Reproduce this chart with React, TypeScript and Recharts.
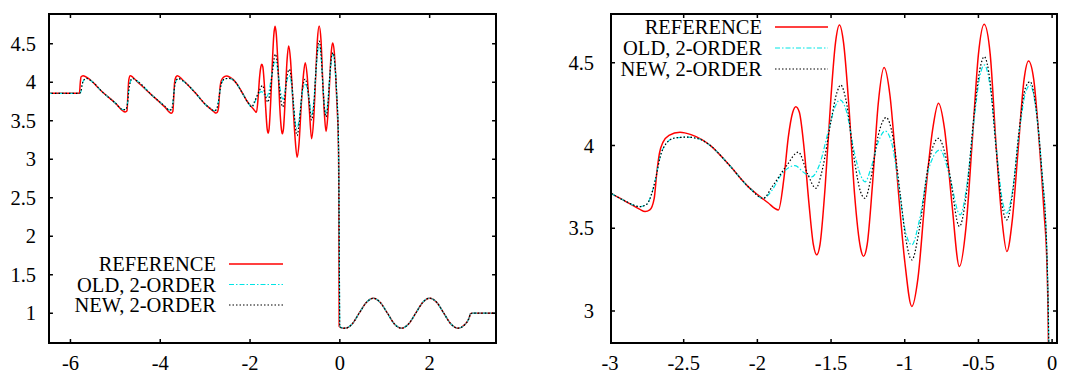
import React from 'react'
import { LineChart, Line, XAxis, YAxis } from 'recharts'

// density profiles, as [x, rho]
const refPts: [number, number][] = [
  [-6.5, 3.857], [-5.8, 3.857], [-5.78, 4.0], [-5.765, 4.07], [-5.72, 4.086], [-5.6, 4.05],
  [-5.3, 3.88], [-5.0, 3.73], [-4.78, 3.615], [-4.74, 3.63], [-4.72, 3.85], [-4.7, 4.03],
  [-4.67, 4.086], [-4.5, 4.0], [-4.2, 3.84], [-3.9, 3.68], [-3.755, 3.597], [-3.72, 3.62],
  [-3.7, 3.8], [-3.68, 4.0], [-3.65, 4.07], [-3.62, 4.086], [-3.5, 4.03], [-3.2, 3.85],
  [-3.0, 3.715], [-2.9, 3.665], [-2.8, 3.615], [-2.762, 3.6], [-2.73, 3.61], [-2.7, 3.68],
  [-2.683, 3.83], [-2.665, 3.95], [-2.64, 4.02], [-2.6, 4.06], [-2.525, 4.08], [-2.45, 4.065],
  [-2.32, 4.0], [-2.2, 3.89], [-2.05, 3.74], [-1.995, 3.7], [-1.93, 3.655], [-1.857, 3.61],
  [-1.82, 3.8], [-1.79, 4.05], [-1.76, 4.2], [-1.739, 4.234], [-1.715, 4.2], [-1.685, 4.0],
  [-1.65, 3.65], [-1.62, 3.4], [-1.597, 3.339], [-1.575, 3.4], [-1.54, 3.75], [-1.5, 4.3],
  [-1.47, 4.62], [-1.443, 4.728], [-1.415, 4.62], [-1.38, 4.25], [-1.34, 3.7], [-1.3, 3.38],
  [-1.28, 3.33], [-1.255, 3.4], [-1.22, 3.75], [-1.18, 4.25], [-1.14, 4.47], [-1.1, 4.3],
  [-1.06, 3.9], [-1.0, 3.3], [-0.952, 3.027], [-0.91, 3.2], [-0.86, 3.7], [-0.81, 4.1],
  [-0.771, 4.255], [-0.73, 4.1], [-0.68, 3.65], [-0.629, 3.268], [-0.585, 3.5], [-0.54, 4.05],
  [-0.5, 4.55], [-0.461, 4.732], [-0.42, 4.55], [-0.38, 4.0], [-0.34, 3.55], [-0.307, 3.359],
  [-0.27, 3.55], [-0.23, 3.98], [-0.19, 4.4], [-0.16, 4.51], [-0.125, 4.4], [-0.09, 4.05],
  [-0.055, 3.6], [-0.035, 3.28], [-0.025, 2.8], [-0.015, 0.83],
]

const oldPts: [number, number][] = [
  [-6.5, 3.857], [-5.8, 3.857], [-5.77, 3.87], [-5.74, 3.97], [-5.7, 4.03], [-5.64, 4.05],
  [-5.5, 4.0], [-5.3, 3.88], [-5.0, 3.73], [-4.83, 3.645], [-4.77, 3.645], [-4.73, 3.72],
  [-4.7, 3.9], [-4.67, 4.0], [-4.62, 4.05], [-4.5, 4.01], [-4.2, 3.84], [-3.9, 3.69],
  [-3.8, 3.64], [-3.75, 3.645], [-3.72, 3.72], [-3.69, 3.9], [-3.66, 4.0], [-3.6, 4.05],
  [-3.5, 4.02], [-3.2, 3.85], [-3.0, 3.715], [-2.9, 3.665], [-2.796, 3.63], [-2.75, 3.645],
  [-2.72, 3.7], [-2.69, 3.8], [-2.66, 3.93], [-2.62, 4.01], [-2.56, 4.045], [-2.48, 4.05],
  [-2.4, 4.04], [-2.32, 4.0], [-2.2, 3.89], [-2.05, 3.74], [-1.96, 3.68], [-1.9, 3.73],
  [-1.84, 3.82], [-1.744, 3.878], [-1.69, 3.84], [-1.631, 3.81], [-1.58, 3.88], [-1.52, 4.08],
  [-1.47, 4.24], [-1.439, 4.275], [-1.4, 4.22], [-1.34, 3.95], [-1.3, 3.82], [-1.269, 3.78],
  [-1.23, 3.86], [-1.18, 4.02], [-1.133, 4.087], [-1.09, 4.02], [-1.04, 3.75], [-1.0, 3.5],
  [-0.952, 3.399], [-0.9, 3.55], [-0.84, 3.85], [-0.76, 3.973], [-0.7, 3.83], [-0.624, 3.58],
  [-0.58, 3.75], [-0.53, 4.15], [-0.49, 4.42], [-0.459, 4.486], [-0.42, 4.35], [-0.38, 4.0],
  [-0.34, 3.68], [-0.307, 3.59], [-0.27, 3.72], [-0.22, 4.1], [-0.18, 4.32], [-0.149, 4.365],
  [-0.11, 4.22], [-0.07, 3.85], [-0.035, 3.34], [-0.02, 2.6], [-0.01, 1.5], [0.0, 0.83],
]

const newPts: [number, number][] = [
  [-6.5, 3.857], [-5.8, 3.857], [-5.77, 3.87], [-5.74, 3.97], [-5.7, 4.03], [-5.64, 4.05],
  [-5.5, 4.0], [-5.3, 3.88], [-5.0, 3.73], [-4.83, 3.645], [-4.77, 3.645], [-4.73, 3.72],
  [-4.7, 3.9], [-4.67, 4.0], [-4.62, 4.05], [-4.5, 4.01], [-4.2, 3.84], [-3.9, 3.69],
  [-3.8, 3.64], [-3.75, 3.645], [-3.72, 3.72], [-3.69, 3.9], [-3.66, 4.0], [-3.6, 4.05],
  [-3.5, 4.02], [-3.2, 3.85], [-3.0, 3.715], [-2.9, 3.665], [-2.796, 3.63], [-2.75, 3.645],
  [-2.72, 3.7], [-2.69, 3.8], [-2.66, 3.93], [-2.62, 4.01], [-2.56, 4.045], [-2.48, 4.05],
  [-2.4, 4.04], [-2.32, 4.0], [-2.2, 3.89], [-2.05, 3.74], [-1.96, 3.68], [-1.9, 3.75],
  [-1.8, 3.88], [-1.722, 3.959], [-1.66, 3.83], [-1.603, 3.741], [-1.56, 3.85], [-1.5, 4.15],
  [-1.46, 4.32], [-1.434, 4.365], [-1.4, 4.28], [-1.34, 3.9], [-1.3, 3.72], [-1.269, 3.68],
  [-1.23, 3.8], [-1.18, 4.06], [-1.126, 4.168], [-1.08, 4.05], [-1.03, 3.7], [-0.99, 3.42],
  [-0.952, 3.308], [-0.9, 3.5], [-0.84, 3.88], [-0.771, 4.043], [-0.7, 3.85], [-0.629, 3.51],
  [-0.58, 3.72], [-0.53, 4.18], [-0.49, 4.46], [-0.461, 4.536], [-0.42, 4.38], [-0.38, 3.98],
  [-0.34, 3.64], [-0.307, 3.55], [-0.27, 3.7], [-0.22, 4.12], [-0.18, 4.35], [-0.149, 4.385],
  [-0.11, 4.23], [-0.07, 3.85], [-0.035, 3.34], [-0.02, 2.6], [-0.01, 1.5], [0.0, 0.83],
]

// right of the contact all three schemes coincide
const tailPts: [number, number][] = [
  [0.03, 0.812], [0.12, 0.805], [0.275, 0.86], [0.43, 1.0], [0.59, 1.14], [0.745, 1.195],
  [0.9, 1.14], [1.06, 1.0], [1.215, 0.86], [1.375, 0.805], [1.53, 0.86], [1.69, 1.0],
  [1.845, 1.14], [2.0, 1.195], [2.16, 1.14], [2.315, 1.0], [2.475, 0.86], [2.63, 0.805],
  [2.78, 0.85], [2.88, 0.94], [2.91, 0.995], [2.95, 1.0], [3.5, 1.0],
]

const leftXTicks = [-6, -4, -2, 0, 2]
const leftYTicks = [1, 1.5, 2, 2.5, 3, 3.5, 4, 4.5]
const rightXTicks = [-3, -2.5, -2, -1.5, -1, -0.5, 0]
const rightYTicks = [3, 3.5, 4, 4.5]

const seriesNames = ['REFERENCE', 'OLD, 2-ORDER', 'NEW, 2-ORDER']

const rows = (pts: [number, number][]) => [...pts, ...tailPts].map(([x, y]) => ({ x, y }))
const refData = rows(refPts)
const oldData = rows(oldPts)
const newData = rows(newPts)

const FONT = '"Liberation Serif", "Times New Roman", serif'
const FS = 20.5

const styles = [
  { stroke: '#ff0000', width: 1.5, dash: undefined as string | undefined },
  { stroke: '#00e5e5', width: 1.2, dash: '5 2 1.5 2' },
  { stroke: '#000000', width: 1.2, dash: '1.5 2' },
]

const bottomLabel = (props: any) => (
  <text x={props.x} y={props.y + 11} dy="0.71em" textAnchor="middle" fontFamily={FONT} fontSize={FS} fill="#000">
    {String(props.payload.value)}
  </text>
)
const leftLabel = (gap: number) => (props: any) => (
  <text x={props.x - gap} y={props.y} dy="0.35em" textAnchor="end" fontFamily={FONT} fontSize={FS} fill="#000">
    {String(props.payload.value)}
  </text>
)

type Row = { x: number; y: number | null }

function Panel(props: {
  width: number
  left: number
  right: number
  xDomain: [number, number]
  yDomain: [number, number]
  xTicks: number[]
  yTicks: number[]
  yGap: number
  tickX: number // inward tick length, in x units
  tickY: number // inward tick length, in y units
}) {
  const { width, left, right, xDomain, yDomain, xTicks, yTicks, yGap, tickX, tickY } = props
  const [x0, x1] = xDomain
  const [y0, y1] = yDomain
  const common = { type: 'number' as const, allowDataOverflow: true, tickLine: false, tickSize: 0, tickMargin: 0, axisLine: false }

  // border of the plot and the inward tick marks, as broken polylines
  const frame: Row[] = [
    { x: x0, y: y0 }, { x: x1, y: y0 }, { x: x1, y: y1 }, { x: x0, y: y1 }, { x: x0, y: y0 },
  ]
  const marks: Row[] = []
  xTicks.forEach((t) => {
    marks.push({ x: t, y: y0 }, { x: t, y: y0 + tickY }, { x: t, y: null })
    marks.push({ x: t, y: y1 }, { x: t, y: y1 - tickY }, { x: t, y: null })
  })
  yTicks.forEach((t) => {
    marks.push({ x: x0, y: t }, { x: x0 + tickX, y: t }, { x: x0, y: null })
    marks.push({ x: x1, y: t }, { x: x1 - tickX, y: t }, { x: x1, y: null })
  })

  return (
    <LineChart width={width} height={376} margin={{ top: 13, right, bottom: 0, left: 0 }}>
      <XAxis {...common} xAxisId="b" dataKey="x" orientation="bottom" height={32} domain={xDomain} ticks={xTicks} tick={bottomLabel} />
      <YAxis {...common} yAxisId="l" dataKey="y" orientation="left" width={left} domain={yDomain} ticks={yTicks} tick={leftLabel(yGap)} />
      {[refData, oldData, newData].map((d, i) => (
        <Line
          key={seriesNames[i]}
          data={d}
          xAxisId="b"
          yAxisId="l"
          dataKey="y"
          name={seriesNames[i]}
          type="monotone"
          dot={false}
          stroke={styles[i].stroke}
          strokeWidth={styles[i].width}
          strokeDasharray={styles[i].dash}
          isAnimationActive={false}
        />
      ))}
      <Line data={marks} xAxisId="b" yAxisId="l" dataKey="y" type="linear" dot={false} connectNulls={false} stroke="#000" strokeWidth={1.5} isAnimationActive={false} legendType="none" />
      <Line data={frame} xAxisId="b" yAxisId="l" dataKey="y" type="linear" dot={false} stroke="#000" strokeWidth={4} isAnimationActive={false} legendType="none" />
    </LineChart>
  )
}

function KeyBox({ textRight, lineFrom, lineTo, rowYs }: { textRight: number; lineFrom: number; lineTo: number; rowYs: number[] }) {
  return (
    <g>
      {seriesNames.map((n, i) => (
        <g key={n}>
          <text x={textRight} y={rowYs[i]} dy="0.35em" textAnchor="end" fontFamily={FONT} fontSize={FS} fill="#000">{n}</text>
          <line x1={lineFrom} x2={lineTo} y1={rowYs[i]} y2={rowYs[i]} stroke={styles[i].stroke} strokeWidth={styles[i].width} strokeDasharray={styles[i].dash} />
        </g>
      ))}
    </g>
  )
}

export default function App() {
  return (
    <div style={{ position: 'relative', width: 1065, height: 376, background: '#fff' }}>
      <style>{'body{margin:0}'}</style>
      <div style={{ display: 'flex' }}>
        <Panel width={530} left={48} right={33} xDomain={[-6.5, 3.5]} yDomain={[0.6, 4.9]} xTicks={leftXTicks} yTicks={leftYTicks} yGap={12} tickX={0.11} tickY={0.065} />
        <Panel width={535} left={80} right={7} xDomain={[-3, 0.04]} yDomain={[2.8, 4.8]} xTicks={rightXTicks} yTicks={rightYTicks} yGap={16} tickX={0.034} tickY={0.03} />
      </div>
      <svg width={1065} height={376} style={{ position: 'absolute', left: 0, top: 0, pointerEvents: 'none' }}>
        <KeyBox textRight={216} lineFrom={229} lineTo={283} rowYs={[264, 284.5, 305]} />
        <KeyBox textRight={762} lineFrom={775} lineTo={828} rowYs={[27, 48, 69]} />
      </svg>
    </div>
  )
}
